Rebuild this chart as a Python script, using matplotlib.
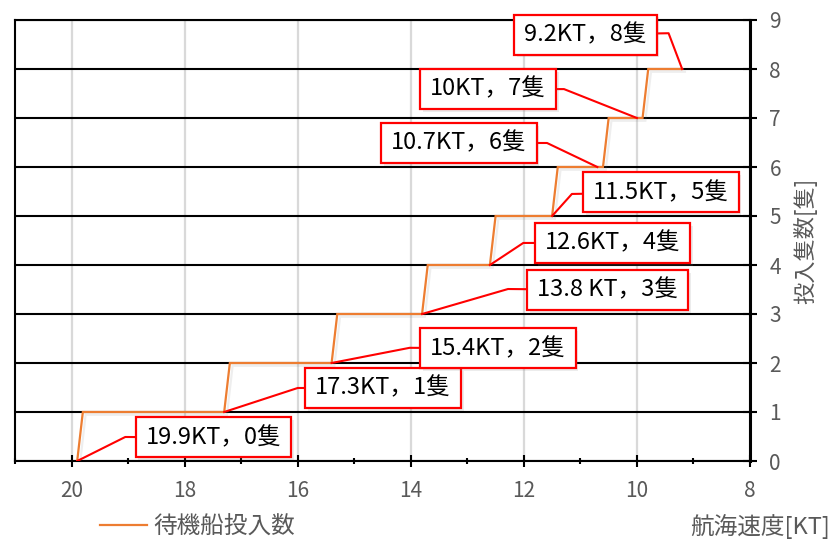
import matplotlib
matplotlib.use("Agg")
import matplotlib.pyplot as plt
import matplotlib.patheffects as pe
from matplotlib.path import Path
from matplotlib.lines import Line2D
from matplotlib.ticker import MultipleLocator

plt.rcParams['font.family'] = ['Noto Sans CJK JP', 'DejaVu Sans']

# ---- data ----
line_speed = [19.9, 19.8, 17.3, 17.2, 15.4, 15.3, 13.8, 13.7, 12.6, 12.5,
              11.5, 11.4, 10.6, 10.5, 9.9, 9.8, 9.2]
line_count = [0, 1, 1, 2, 2, 3, 3, 4, 4, 5, 5, 6, 6, 7, 7, 8, 8]

point_speed = [19.9, 17.3, 15.4, 13.8, 12.6, 11.5, 10.7, 10.0, 9.2]
point_count = [0, 1, 2, 3, 4, 5, 6, 7, 8]
point_labels = ["19.9KT，0隻", "17.3KT，1隻", "15.4KT，2隻", "13.8 KT，3隻",
                "12.6KT，4隻", "11.5KT，5隻", "10.7KT，6隻", "10KT，7隻", "9.2KT，8隻"]

series_name = "待機船投入数"
x_title = "航海速度[KT]"
y_title = "投入隻数[隻]"

# ---- layout of annotation boxes (data coords) ----
box_x = [17.49, 14.49, 12.46, 10.52, 10.43, 9.58, 13.15, 12.63, 10.91]
box_y = [0.48, 1.49, 2.30, 3.49, 4.45, 5.48, 6.49, 7.59, 8.70]
elbow_x = [19.05, 16.0, 14.02, 12.28, 12.01, 11.15, 11.59, 11.29, 9.44]
elbow_y = [0.49, 1.49, 2.31, 3.51, 4.45, 5.45, 6.49, 7.59, 8.73]

ORANGE = "#ED7D31"
RED = "#FF0000"
TICKC = "#595959"

fig = plt.figure(figsize=(8.38, 5.44), dpi=100)
ax = fig.add_axes([15/838, 1-461/544, (750-15)/838, (461-20)/544])

ax.set_xlim(21, 8)
ax.set_ylim(0, 9)

ax.xaxis.set_major_locator(MultipleLocator(2))
ax.xaxis.set_minor_locator(MultipleLocator(1))
ax.yaxis.set_major_locator(MultipleLocator(1))
ax.yaxis.tick_right()
ax.yaxis.set_label_position("right")

ax.set_axisbelow(True)
ax.xaxis.grid(True, which='major', color="#D9D9D9", lw=1.6)
ax.yaxis.grid(True, which='major', color="black", lw=1.5)

for s in ax.spines.values():
    s.set_color("black")
    s.set_linewidth(1.5)
ax.spines['right'].set_linewidth(2.2)

ax.tick_params(axis='x', which='major', direction='inout', length=9, width=1.5,
               labelsize=15, labelcolor=TICKC, pad=9)
ax.tick_params(axis='x', which='minor', direction='inout', length=5, width=1.5)
ax.tick_params(axis='y', which='major', direction='inout', length=10, width=1.5,
               labelsize=15, labelcolor=TICKC, pad=9)

shadow = [pe.SimpleLineShadow(offset=(2, -2), shadow_color='gray', alpha=0.13), pe.Normal()]
ax.plot(line_speed, line_count, color=ORANGE, lw=1.6, zorder=3,
        path_effects=shadow, solid_joinstyle='miter')


def rect_style(x0, y0, width, height, mutation_size):
    px = 0.42 * mutation_size
    py = 0.36 * mutation_size
    verts = [(x0 - px, y0 - py), (x0 + width + px, y0 - py),
             (x0 + width + px, y0 + height + py), (x0 - px, y0 + height + py),
             (x0 - px, y0 - py)]
    return Path(verts, closed=True)


for i in range(len(point_speed)):
    ax.plot([point_speed[i], elbow_x[i], box_x[i]],
            [point_count[i], elbow_y[i], box_y[i]],
            color=RED, lw=1.5, zorder=4)
    t = ax.text(box_x[i], box_y[i], point_labels[i], fontsize=17, color='black',
                ha='center', va='center', zorder=6,
                bbox=dict(boxstyle=rect_style, fc='white', ec=RED, lw=1.6))
    t.get_bbox_patch().set_path_effects(
        [pe.SimplePatchShadow(offset=(2, -2), shadow_rgbFace='gray', alpha=0.15), pe.Normal()])

ax.set_ylabel(y_title, fontsize=16, color=TICKC, rotation=90, labelpad=9)

fig.text(760/838, 1-527/544, x_title, fontsize=17, color=TICKC, ha='center', va='center')

handle = Line2D([], [], color=ORANGE, lw=1.6)
fig.legend([handle], [series_name], loc='center left',
           bbox_to_anchor=(100/838, 1-527/544), frameon=False, fontsize=17,
           handlelength=2.0, handletextpad=0.25, borderpad=0, borderaxespad=0,
           labelcolor=TICKC)

fig.savefig("out.png", dpi=100)
